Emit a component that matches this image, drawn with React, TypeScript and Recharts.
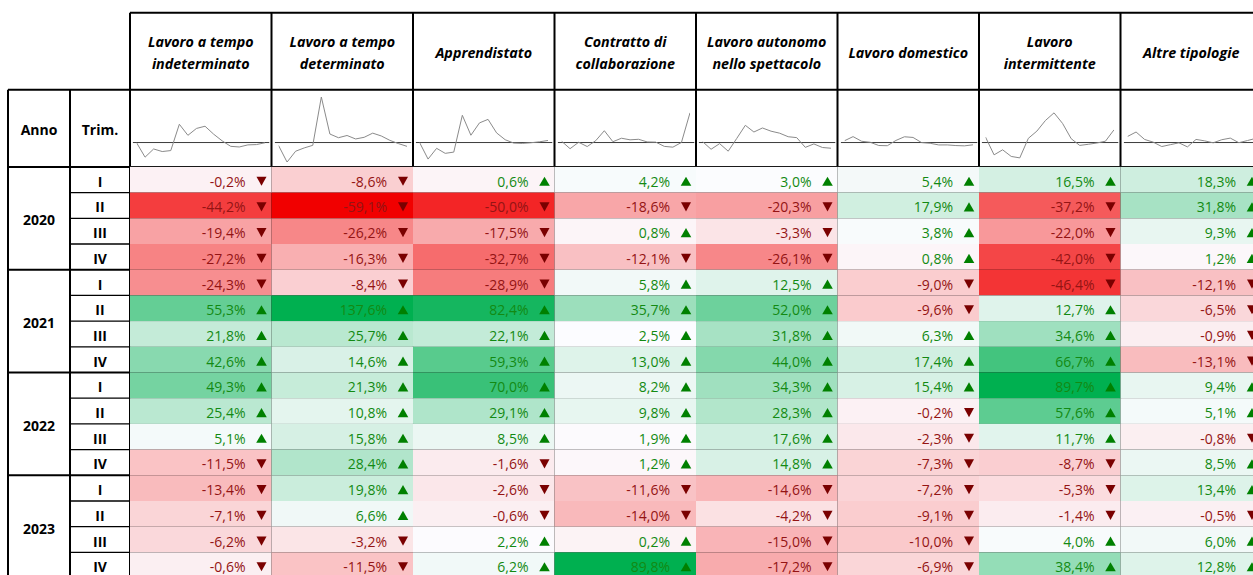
import React from 'react';
import { ScatterChart, Scatter, XAxis, YAxis, ReferenceLine, LineChart, Line } from 'recharts';

// ---------- DATA ----------
const categories = [
  'Lavoro a tempo\nindeterminato',
  'Lavoro a tempo\ndeterminato',
  'Apprendistato',
  'Contratto di\ncollaborazione',
  'Lavoro autonomo\nnello spettacolo',
  'Lavoro domestico',
  'Lavoro\nintermittente',
  'Altre tipologie',
];
const years = ['2020', '2021', '2022', '2023'];
const quarters = ['I', 'II', 'III', 'IV'];

const tempoIndeterminato = [-0.2, -44.2, -19.4, -27.2, -24.3, 55.3, 21.8, 42.6, 49.3, 25.4, 5.1, -11.5, -13.4, -7.1, -6.2, -0.6];
const tempoDeterminato = [-8.6, -59.1, -26.2, -16.3, -8.4, 137.6, 25.7, 14.6, 21.3, 10.8, 15.8, 28.4, 19.8, 6.6, -3.2, -11.5];
const apprendistato = [0.6, -50.0, -17.5, -32.7, -28.9, 82.4, 22.1, 59.3, 70.0, 29.1, 8.5, -1.6, -2.6, -0.6, 2.2, 6.2];
const collaborazione = [4.2, -18.6, 0.8, -12.1, 5.8, 35.7, 2.5, 13.0, 8.2, 9.8, 1.9, 1.2, -11.6, -14.0, 0.2, 89.8];
const spettacolo = [3.0, -20.3, -3.3, -26.1, 12.5, 52.0, 31.8, 44.0, 34.3, 28.3, 17.6, 14.8, -14.6, -4.2, -15.0, -17.2];
const domestico = [5.4, 17.9, 3.8, 0.8, -9.0, -9.6, 6.3, 17.4, 15.4, -0.2, -2.3, -7.3, -7.2, -9.1, -10.0, -6.9];
const intermittente = [16.5, -37.2, -22.0, -42.0, -46.4, 12.7, 34.6, 66.7, 89.7, 57.6, 11.7, -8.7, -5.3, -1.4, 4.0, 38.4];
const altreTipologie = [18.3, 31.8, 9.3, 1.2, -12.1, -6.5, -0.9, -13.1, 9.4, 5.1, -0.8, 8.5, 13.4, -0.5, 6.0, 12.8];

const series = [tempoIndeterminato, tempoDeterminato, apprendistato, collaborazione, spettacolo, domestico, intermittente, altreTipologie];

// ---------- LAYOUT / STYLE ----------
const TABLE_LEFT = 8;
const LABEL_SPLIT = 70;
const DATA_LEFT = 130;
const COL_W = 141.5;
const TOP = 12.7;
const ROW_H = 25.7;
const CHART_W = 1272;
const CHART_H = 582;
const N_COLS = categories.length;
const N_ROWS = years.length * quarters.length;

const toUnitX = (px: number) => (px - DATA_LEFT) / COL_W;
const X_MIN = toUnitX(TABLE_LEFT);
const TRIM_LEFT = toUnitX(LABEL_SPLIT);
const ANNO_CX = toUnitX((TABLE_LEFT + LABEL_SPLIT) / 2);
const TRIM_CX = toUnitX((LABEL_SPLIT + DATA_LEFT) / 2);

const FONT = '"Open Sans", Lato, sans-serif';
const GREEN_TXT = '#138a13';
const RED_TXT = '#941414';
const GREEN_ARROW = '#008000';
const RED_ARROW = '#7a0000';

const MID = 2.5;
const allValues = series.flat();
const RED_END = Math.min(...allValues);
const GREEN_END = 89.8;
const WHITE = [252, 252, 255];
const GREEN = [0, 176, 80];
const RED = [241, 0, 0];

function heatColor(v: number) {
  let t: number; let c: number[];
  if (v >= MID) { t = Math.min(1, (v - MID) / (GREEN_END - MID)); c = GREEN; }
  else { t = Math.min(1, (MID - v) / (MID - RED_END)); c = RED; }
  const rgb = WHITE.map((w, i) => Math.round(w + (c[i] - w) * t));
  return `rgb(${rgb[0]},${rgb[1]},${rgb[2]})`;
}
const fmt = (v: number) => v.toFixed(1).replace('.', ',') + '%';

const cellData = series.flatMap((vals, c) => vals.map((v, r) => ({ x: c + 0.5, y: r + 0.5, v })));
const trimData = years.flatMap((_, yi) => quarters.map((q, qi) => ({ x: TRIM_CX, y: yi * 4 + qi + 0.5, label: q })));
const annoData = years.map((yr, yi) => ({ x: ANNO_CX, y: yi * 4 + 2, label: yr }));
const headerData = categories.map((c, i) => ({ x: i + 0.5, y: -4.5, label: c }));
const cornerData = [
  { x: ANNO_CX, y: -1.5, label: 'Anno' },
  { x: TRIM_CX, y: -1.5, label: 'Trim.' },
];

const HeatCell = (props: any) => {
  const { cx, cy, payload } = props;
  const v: number = payload.v;
  const pos = v >= 0;
  const right = cx + COL_W / 2;
  const ax = right - 10;
  const ay = cy + 1.5;
  const tri = pos
    ? `${ax - 5.3},${ay + 4.6} ${ax + 5.3},${ay + 4.6} ${ax},${ay - 4.6}`
    : `${ax - 5},${ay - 4.6} ${ax + 5},${ay - 4.6} ${ax},${ay + 4.6}`;
  return (
    <g>
      <rect x={cx - COL_W / 2} y={cy - ROW_H / 2} width={COL_W} height={ROW_H} fill={heatColor(v)} />
      <text x={right - 26} y={cy + 1.5} textAnchor="end" dominantBaseline="central" fontFamily={FONT} fontSize={14} fill={pos ? GREEN_TXT : RED_TXT}>{fmt(v)}</text>
      <polygon points={tri} fill={pos ? GREEN_ARROW : RED_ARROW} />
    </g>
  );
};

const BoldLabel = (props: any) => {
  const { cx, cy, payload } = props;
  return (
    <text x={cx} y={cy + 1.5} textAnchor="middle" dominantBaseline="central" fontFamily={FONT} fontWeight="bold" fontSize={14} fill="#000">{payload.label}</text>
  );
};

const HeaderLabel = (props: any) => {
  const { cx, cy, payload } = props;
  const lines: string[] = payload.label.split('\n');
  const gap = 22;
  const start = cy + 1 - ((lines.length - 1) * gap) / 2;
  return (
    <g>
      {lines.map((l, i) => (
        <text key={i} x={cx} y={start + i * gap} textAnchor="middle" dominantBaseline="central" fontFamily={FONT} fontStyle="italic" fontWeight="bold" fontSize={14.3} fill="#000">{l}</text>
      ))}
    </g>
  );
};

const SP_MIN = Math.min(...allValues);
const SP_MAX = Math.max(...allValues);

const Sparkline = ({ values, left }: { values: number[]; left: number }) => {
  const data = values.map((v, i) => ({ i, v }));
  return (
    <div style={{ position: 'absolute', left, top: TOP + 3 * ROW_H, width: COL_W, height: 3 * ROW_H }}>
      <LineChart width={COL_W} height={3 * ROW_H} data={data} margin={{ top: 7, bottom: 5, left: 6.5, right: 6.5 }}>
        <XAxis type="number" dataKey="i" domain={[0, values.length - 1]} hide allowDataOverflow />
        <YAxis type="number" domain={[SP_MIN, SP_MAX]} hide allowDataOverflow />
        <ReferenceLine segment={[{ x: -0.42, y: 0 }, { x: values.length - 1 + 0.5, y: 0 }]} stroke="#3a3a3a" strokeWidth={1} ifOverflow="visible" />
        <Line type="linear" dataKey="v" stroke="#8a8a8a" strokeWidth={1} dot={false} isAnimationActive={false} />
      </LineChart>
    </div>
  );
};

export default function App() {
  const thick = 2;
  const thin = 1.3;
  const hLines: { y: number; x0: number; w: number }[] = [];
  for (let r = 0; r <= N_ROWS; r++) {
    if (r % 4 === 0) hLines.push({ y: r, x0: X_MIN, w: thick });
    else hLines.push({ y: r, x0: TRIM_LEFT, w: thin });
  }
  hLines.push({ y: -3, x0: X_MIN, w: thick });
  hLines.push({ y: -6, x0: 0, w: thick });

  return (
    <div style={{ position: 'absolute', left: 0, top: 0, width: 1253, height: 575, overflow: 'hidden', background: '#fff' }}>
      <ScatterChart
        width={CHART_W}
        height={CHART_H}
        margin={{ top: TOP, left: TABLE_LEFT, right: CHART_W - (DATA_LEFT + N_COLS * COL_W), bottom: CHART_H - (TOP + (N_ROWS + 6) * ROW_H) }}
      >
        <XAxis type="number" dataKey="x" domain={[X_MIN, N_COLS]} hide allowDataOverflow />
        <YAxis type="number" dataKey="y" domain={[-6, N_ROWS]} reversed hide allowDataOverflow />
        <Scatter data={cellData} shape={HeatCell} isAnimationActive={false} />
        <Scatter data={trimData} shape={BoldLabel} isAnimationActive={false} />
        <Scatter data={annoData} shape={BoldLabel} isAnimationActive={false} />
        <Scatter data={cornerData} shape={BoldLabel} isAnimationActive={false} />
        <Scatter data={headerData} shape={HeaderLabel} isAnimationActive={false} />
        {hLines.map((l, i) => (
          <ReferenceLine key={'h' + i} segment={[{ x: l.x0, y: l.y }, { x: N_COLS, y: l.y }]} stroke="#000" strokeWidth={l.w} ifOverflow="visible" />
        ))}
        <ReferenceLine segment={[{ x: X_MIN, y: -3 }, { x: X_MIN, y: N_ROWS }]} stroke="#000" strokeWidth={thick} ifOverflow="visible" />
        <ReferenceLine segment={[{ x: TRIM_LEFT, y: -3 }, { x: TRIM_LEFT, y: N_ROWS }]} stroke="#000" strokeWidth={thick} ifOverflow="visible" />
        {Array.from({ length: N_COLS + 1 }, (_, c) => (
          <ReferenceLine key={'v' + c} segment={[{ x: c, y: -6 }, { x: c, y: N_ROWS }]} stroke="#000" strokeWidth={thick} ifOverflow="visible" />
        ))}
      </ScatterChart>
      {series.map((vals, c) => (
        <Sparkline key={c} values={vals} left={DATA_LEFT + c * COL_W} />
      ))}
    </div>
  );
}
